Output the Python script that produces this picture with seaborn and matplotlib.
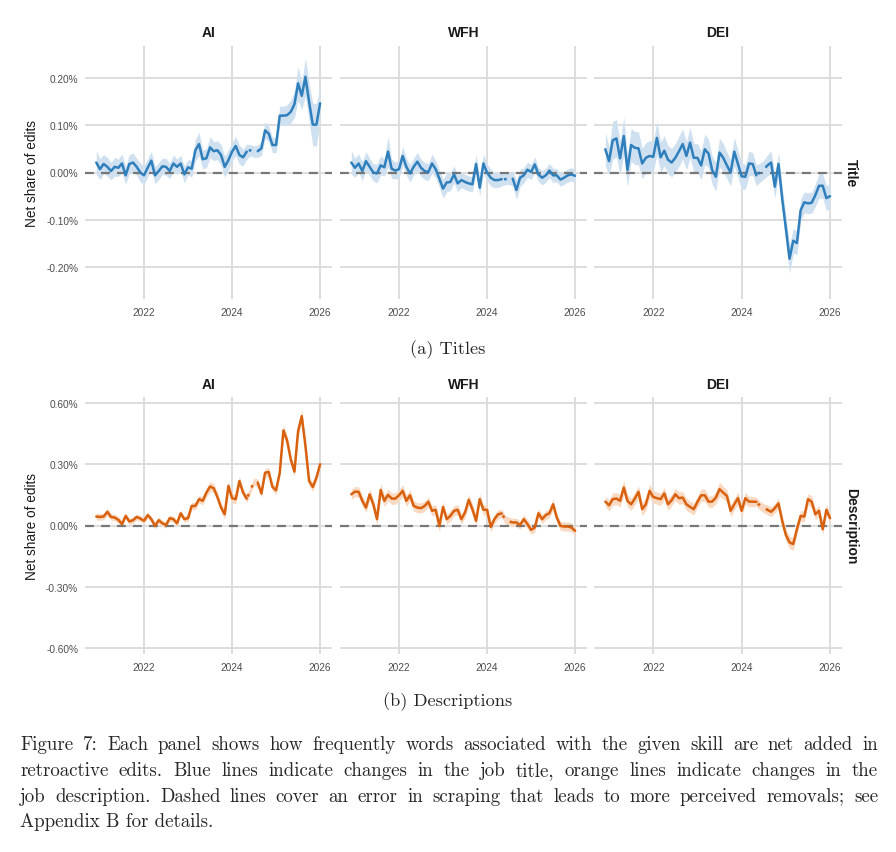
import matplotlib
matplotlib.use("Agg")
import matplotlib.pyplot as plt
import seaborn as sns
import numpy as np
import pandas as pd

# monthly observations, Dec 2020 .. Jan 2026
months = pd.date_range("2020-12-01", "2026-01-01", freq="MS")
skills = ["AI", "WFH", "DEI"]
scrape_error = ["2024-06", "2024-07"]   # drawn dashed

title_ai = [0.021,
            0.007, 0.018, 0.012, 0.003, 0.012, 0.010, 0.019, -0.006, 0.018, 0.021, 0.012, 0.000,
            -0.006, 0.010, 0.025, -0.006, 0.003, 0.013, 0.012, 0.003, 0.019, 0.012, 0.019, -0.004,
            0.011, 0.008, 0.047, 0.060, 0.028, 0.030, 0.053, 0.045, 0.047, 0.037, 0.012, 0.026,
            0.044, 0.056, 0.037, 0.032, 0.044, 0.047, 0.044, 0.045, 0.051, 0.089, 0.082, 0.058,
            0.058, 0.120, 0.120, 0.121, 0.128, 0.144, 0.188, 0.162, 0.202, 0.149, 0.101, 0.101,
            0.146]
title_wfh = [0.021,
             0.010, 0.019, 0.003, 0.024, 0.012, 0.000, -0.002, 0.015, 0.011, 0.044, 0.008, 0.004,
             0.007, 0.035, 0.012, -0.002, 0.012, 0.023, 0.010, 0.003, 0.001, 0.019, 0.007, -0.013,
             -0.034, -0.021, -0.020, -0.004, -0.023, -0.016, -0.020, -0.023, -0.025, 0.018, -0.032, 0.019,
             0.000, -0.011, -0.016, -0.016, -0.014, -0.014, -0.013, -0.013, -0.037, -0.011, -0.006, 0.006,
             0.001, 0.017, -0.004, -0.011, -0.006, 0.004, -0.006, -0.006, -0.015, -0.011, -0.006, -0.004,
             -0.007]
title_dei = [0.049,
             0.024, 0.068, 0.072, 0.030, 0.077, 0.005, 0.058, 0.052, 0.051, 0.019, 0.031, 0.035,
             0.033, 0.073, 0.032, 0.046, 0.027, 0.021, 0.031, 0.045, 0.060, 0.035, 0.063, 0.031,
             0.031, 0.015, 0.049, 0.040, 0.005, -0.009, 0.042, 0.031, 0.015, 0.000, 0.044, 0.018,
             -0.008, -0.009, 0.019, 0.018, -0.006, 0.000, 0.006, 0.015, 0.021, -0.030, 0.018, -0.055,
             -0.118, -0.182, -0.144, -0.149, -0.080, -0.063, -0.065, -0.064, -0.048, -0.028, -0.028, -0.054,
             -0.050]
desc_ai = [0.044,
           0.042, 0.044, 0.067, 0.042, 0.039, 0.028, 0.007, 0.047, 0.020, 0.026, 0.042, 0.034,
           0.023, 0.051, 0.031, -0.002, 0.026, 0.011, 0.002, 0.036, 0.031, 0.011, 0.060, 0.031,
           0.036, 0.096, 0.096, 0.129, 0.121, 0.161, 0.191, 0.183, 0.140, 0.088, 0.055, 0.194,
           0.134, 0.129, 0.218, 0.161, 0.132, 0.173, 0.215, 0.210, 0.157, 0.259, 0.262, 0.189,
           0.173, 0.259, 0.466, 0.417, 0.324, 0.264, 0.463, 0.536, 0.390, 0.218, 0.189, 0.235,
           0.300]
desc_wfh = [0.153,
            0.166, 0.165, 0.121, 0.088, 0.153, 0.104, 0.031, 0.174, 0.121, 0.150, 0.132, 0.132,
            0.148, 0.170, 0.121, 0.148, 0.096, 0.088, 0.085, 0.096, 0.116, 0.072, 0.077, -0.002,
            0.091, 0.031, 0.047, 0.072, 0.077, 0.031, 0.064, 0.126, 0.080, 0.023, 0.129, 0.077,
            0.077, -0.007, 0.031, 0.055, 0.059, 0.028, 0.020, 0.015, 0.015, 0.002, 0.031, 0.007,
            -0.021, -0.010, 0.060, 0.031, 0.051, 0.060, 0.104, 0.039, -0.002, -0.005, -0.005, -0.010,
            -0.026]
desc_dei = [0.117,
            0.099, 0.129, 0.132, 0.121, 0.186, 0.121, 0.104, 0.132, 0.165, 0.080, 0.104, 0.170,
            0.140, 0.134, 0.129, 0.157, 0.104, 0.124, 0.153, 0.134, 0.137, 0.104, 0.091, 0.080,
            0.116, 0.148, 0.148, 0.117, 0.117, 0.137, 0.178, 0.161, 0.145, 0.072, 0.104, 0.134,
            0.072, 0.134, 0.117, 0.117, 0.116, 0.096, 0.085, 0.077, 0.067, 0.085, 0.108, 0.023,
            -0.046, -0.083, -0.091, -0.018, 0.047, 0.044, 0.129, 0.117, 0.055, 0.072, -0.018, 0.077,
            0.036]

# half widths of the confidence bands
title_ai_ci = [0.025,
               0.022, 0.020, 0.020, 0.018, 0.020, 0.018, 0.020, 0.019, 0.020, 0.020, 0.018, 0.020,
               0.020, 0.019, 0.020, 0.018, 0.018, 0.017, 0.018, 0.016, 0.018, 0.016, 0.017, 0.018,
               0.016, 0.018, 0.022, 0.025, 0.020, 0.020, 0.022, 0.020, 0.020, 0.022, 0.022, 0.022,
               0.020, 0.020, 0.020, 0.018, 0.016, 0.012, 0.012, 0.013, 0.015, 0.018, 0.016, 0.016,
               0.016, 0.020, 0.020, 0.022, 0.024, 0.028, 0.035, 0.030, 0.040, 0.040, 0.045, 0.045,
               0.035]
title_wfh_ci = [0.025,
                0.020, 0.020, 0.020, 0.020, 0.018, 0.018, 0.020, 0.020, 0.018, 0.032, 0.020, 0.018,
                0.018, 0.020, 0.018, 0.018, 0.018, 0.020, 0.018, 0.018, 0.018, 0.020, 0.018, 0.018,
                0.020, 0.020, 0.018, 0.018, 0.018, 0.016, 0.016, 0.016, 0.016, 0.020, 0.018, 0.020,
                0.018, 0.018, 0.016, 0.016, 0.014, 0.012, 0.012, 0.016, 0.020, 0.018, 0.016, 0.016,
                0.016, 0.016, 0.015, 0.015, 0.015, 0.015, 0.015, 0.014, 0.014, 0.014, 0.014, 0.014,
                0.014]
title_dei_ci = [0.035,
                0.030, 0.040, 0.040, 0.035, 0.040, 0.035, 0.035, 0.035, 0.035, 0.032, 0.032, 0.032,
                0.032, 0.035, 0.032, 0.032, 0.030, 0.030, 0.030, 0.032, 0.032, 0.030, 0.032, 0.030,
                0.030, 0.030, 0.032, 0.030, 0.030, 0.030, 0.030, 0.030, 0.028, 0.028, 0.030, 0.028,
                0.028, 0.026, 0.026, 0.024, 0.022, 0.020, 0.020, 0.022, 0.024, 0.024, 0.024, 0.026,
                0.028, 0.030, 0.026, 0.025, 0.024, 0.022, 0.022, 0.022, 0.024, 0.026, 0.026, 0.026,
                0.026]
desc_ai_ci = [0.018,
              0.016, 0.016, 0.018, 0.016, 0.016, 0.016, 0.016, 0.016, 0.015, 0.015, 0.015, 0.015,
              0.015, 0.016, 0.015, 0.015, 0.015, 0.015, 0.015, 0.015, 0.015, 0.015, 0.016, 0.015,
              0.016, 0.018, 0.018, 0.020, 0.020, 0.022, 0.024, 0.022, 0.022, 0.022, 0.024, 0.026,
              0.024, 0.022, 0.024, 0.022, 0.020, 0.018, 0.018, 0.018, 0.020, 0.022, 0.022, 0.020,
              0.020, 0.022, 0.028, 0.026, 0.024, 0.022, 0.026, 0.030, 0.026, 0.022, 0.022, 0.022,
              0.024]
desc_wfh_ci = [0.025,
               0.025, 0.025, 0.025, 0.025, 0.028, 0.025, 0.030, 0.032, 0.028, 0.028, 0.028, 0.028,
               0.028, 0.030, 0.028, 0.028, 0.025, 0.025, 0.025, 0.025, 0.025, 0.025, 0.025, 0.030,
               0.025, 0.025, 0.025, 0.025, 0.025, 0.025, 0.025, 0.028, 0.025, 0.025, 0.028, 0.025,
               0.025, 0.025, 0.022, 0.022, 0.020, 0.020, 0.020, 0.020, 0.020, 0.020, 0.022, 0.022,
               0.022, 0.022, 0.022, 0.022, 0.022, 0.022, 0.025, 0.022, 0.022, 0.022, 0.022, 0.022,
               0.022]
desc_dei_ci = [0.025,
               0.028, 0.030, 0.030, 0.030, 0.035, 0.030, 0.030, 0.030, 0.030, 0.032, 0.030, 0.032,
               0.030, 0.030, 0.030, 0.030, 0.030, 0.028, 0.030, 0.030, 0.030, 0.030, 0.028, 0.028,
               0.028, 0.030, 0.030, 0.028, 0.028, 0.030, 0.035, 0.030, 0.030, 0.030, 0.028, 0.030,
               0.030, 0.028, 0.026, 0.024, 0.022, 0.022, 0.022, 0.024, 0.024, 0.024, 0.026, 0.026,
               0.028, 0.030, 0.030, 0.028, 0.026, 0.026, 0.028, 0.028, 0.026, 0.026, 0.028, 0.026,
               0.026]

title_ticks = [-0.2, -0.1, 0.0, 0.1, 0.2]
desc_ticks = [-0.6, -0.3, 0.0, 0.3, 0.6]
year_ticks = [2022, 2024, 2026]

caption_a = "(a) Titles"
caption_b = "(b) Descriptions"
caption_lines = [
    "Figure 7: Each panel shows how frequently words associated with the given skill are net added in",
    "retroactive edits. Blue lines indicate changes in the job title, orange lines indicate changes in the",
    "job description. Dashed lines cover an error in scraping that leads to more perceived removals; see",
    "Appendix B for details.",
]

BLUE, BLUE_BAND = "#2f7fbc", "#cfe1f0"
ORANGE, ORANGE_BAND = "#d9600c", "#f9d9c2"

W, H = 896, 853
sns.set_theme(style="whitegrid")
plt.rcParams["font.family"] = ["Liberation Sans", "DejaVu Sans"]
fig = plt.figure(figsize=(W / 100, H / 100), dpi=100)
fig.patch.set_facecolor("white")

xyear = months.year + (months.month - 1) / 12
err = np.asarray(months.strftime("%Y-%m").isin(scrape_error))
i0 = int(np.argmax(err)) - 1
i1 = len(err) - int(np.argmax(err[::-1]))


def fx(x):
    return x / W


def fy(y):
    return 1 - y / H


def draw_panel(rect, vals, ci, color, band, lim, ticks, first_col):
    ax = fig.add_axes([fx(rect[0]), fy(rect[3]), (rect[2] - rect[0]) / W, (rect[3] - rect[1]) / H])
    vals, ci = np.array(vals), np.array(ci)
    df = pd.DataFrame({"x": xyear, "y": vals, "lo": vals - ci, "hi": vals + ci})
    ax.fill_between(df["x"], df["lo"], df["hi"], color=band, lw=0, zorder=1)
    ax.axhline(0, color="#777777", lw=1.6, ls=(0, (4, 3.2)), zorder=1.5)
    kw = dict(x="x", y="y", color=color, lw=1.8, ax=ax, estimator=None, sort=False, zorder=3)
    sns.lineplot(data=df.iloc[:i0 + 1], **kw)
    sns.lineplot(data=df.iloc[i0:i1 + 1], linestyle=(3, (1.1, 2.8)), **kw)
    sns.lineplot(data=df.iloc[i1:], **kw)
    ax.set_xlim(2020.66, 2026.27)
    ax.set_ylim(-lim, lim)
    ax.set_xticks(year_ticks)
    ax.set_yticks(ticks)
    ax.set_xticklabels([str(y) for y in year_ticks])
    if first_col:
        ax.set_yticklabels([f"{t:.2f}%" for t in ticks])
    else:
        ax.set_yticklabels([])
    ax.set_xlabel("")
    ax.set_ylabel("")
    ax.grid(True, color="#dadada", lw=1.3)
    ax.set_facecolor("white")
    for s in ax.spines.values():
        s.set_visible(False)
    ax.tick_params(length=0, labelsize=7.3, labelcolor="#4d4d4d")
    ax.tick_params(axis="x", pad=6)
    ax.tick_params(axis="y", pad=5)
    return ax


cols = [(85, 332), (340, 587), (594, 842)]
rows = [
    dict(top=47, bot=300, series=[title_ai, title_wfh, title_dei],
         ci=[title_ai_ci, title_wfh_ci, title_dei_ci], color=BLUE, band=BLUE_BAND,
         lim=0.267, ticks=title_ticks, strip="Title", title_y=33),
    dict(top=398, bot=655, series=[desc_ai, desc_wfh, desc_dei],
         ci=[desc_ai_ci, desc_wfh_ci, desc_dei_ci], color=ORANGE, band=ORANGE_BAND,
         lim=0.63, ticks=desc_ticks, strip="Description", title_y=385),
]

for r in rows:
    for j, (x0, x1) in enumerate(cols):
        draw_panel((x0, r["top"], x1, r["bot"]), r["series"][j], r["ci"][j],
                   r["color"], r["band"], r["lim"], r["ticks"], j == 0)
        fig.text(fx((x0 + x1) / 2), fy(r["title_y"]), skills[j], ha="center", va="center",
                 fontsize=10, fontweight="bold", color="#1a1a1a")
    mid = (r["top"] + r["bot"]) / 2
    fig.text(fx(851), fy(mid), r["strip"], rotation=-90, ha="center", va="center",
             fontsize=10, fontweight="bold", color="#1a1a1a")
    fig.text(fx(32), fy(mid), "Net share of edits", rotation=90, ha="center", va="center",
             fontsize=9.8, color="#1a1a1a")

serif = ["cmr10", "DejaVu Serif"]
cap_size = 13.6
fig.text(0.5, fy(350), caption_a, ha="center", va="center", family=serif, fontsize=13.2)
fig.text(0.5, fy(702), caption_b, ha="center", va="center", family=serif, fontsize=13.2)

# justified figure caption
renderer = fig.canvas.get_renderer()
left, right = 20, 878
line_y = [745, 771, 797, 822]
for k, line in enumerate(caption_lines):
    if k == len(caption_lines) - 1:
        fig.text(fx(left), fy(line_y[k]), line, ha="left", va="center", family=serif, fontsize=cap_size)
        continue
    words = line.split(" ")
    texts = [fig.text(0, fy(line_y[k]), w, ha="left", va="center", family=serif, fontsize=cap_size)
             for w in words]
    widths = [t.get_window_extent(renderer).width for t in texts]
    gap = (right - left - sum(widths)) / (len(words) - 1)
    x = left
    for t, w in zip(texts, widths):
        t.set_x(fx(x))
        x += w + gap

fig.savefig("out.png", dpi=100, facecolor="white")
